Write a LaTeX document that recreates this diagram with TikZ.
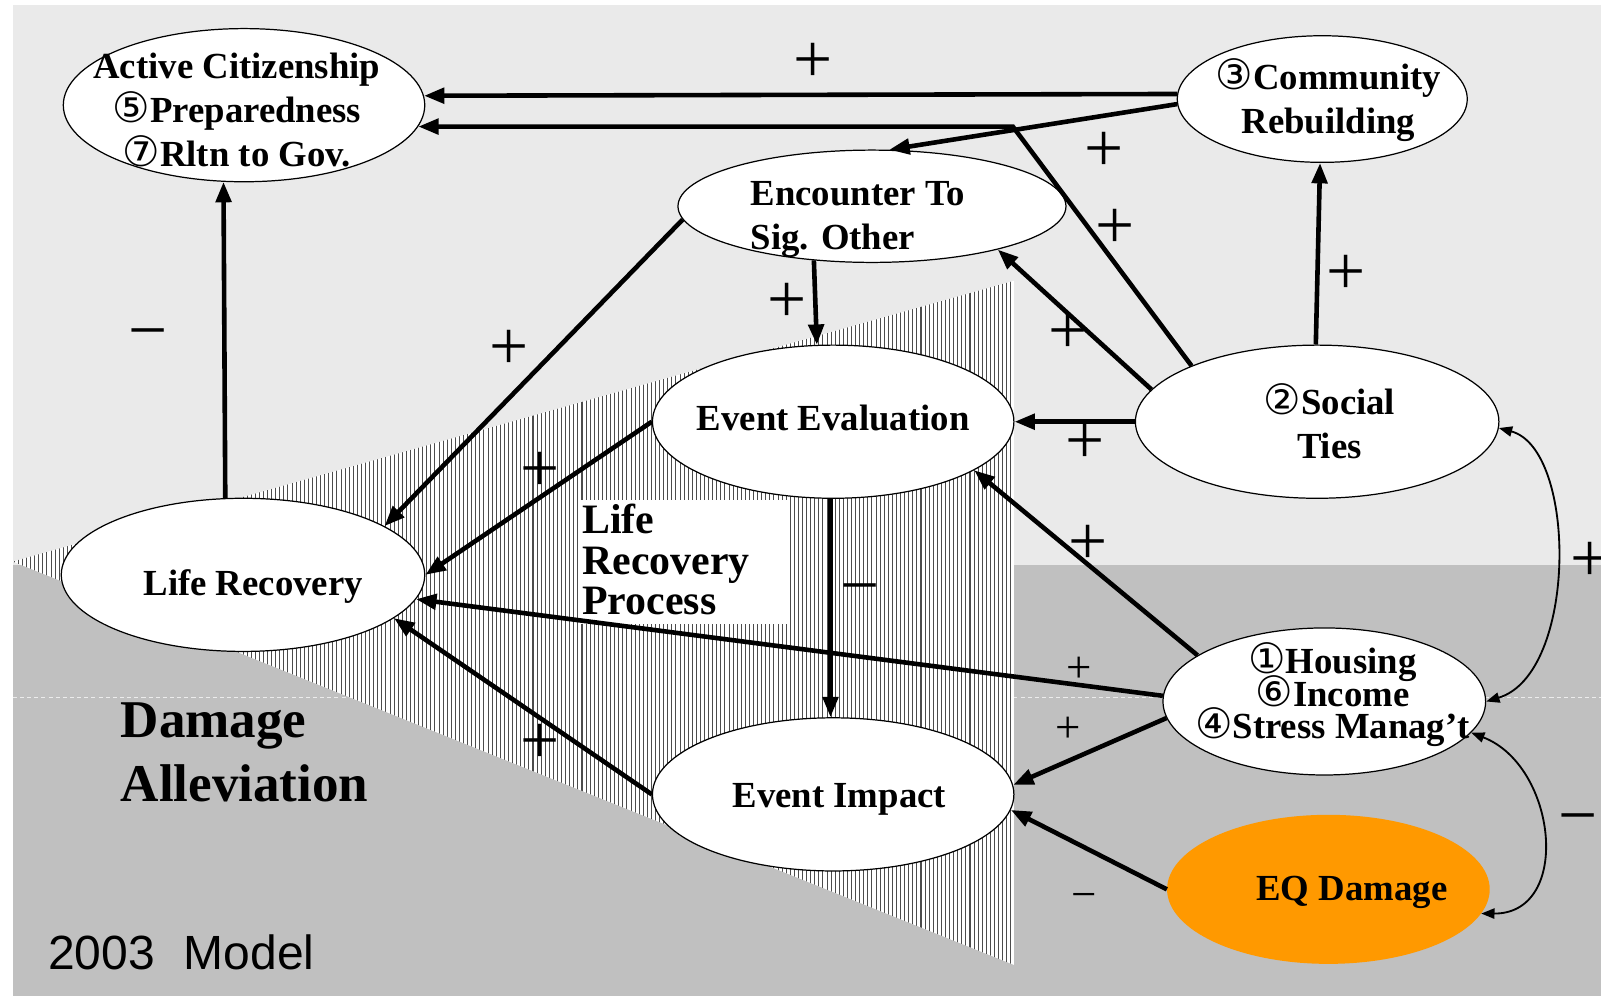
\documentclass[tikz,border=0pt]{standalone}
\usepackage{fontspec}
\setmainfont{Liberation Serif}
\setsansfont{Liberation Sans}
\newfontfamily\cfont{DejaVu Sans}
\usetikzlibrary{shapes.geometric,arrows.meta}
\definecolor{bglight}{RGB}{234,234,234}
\definecolor{bgdark}{RGB}{192,192,192}
\definecolor{eqorange}{RGB}{255,153,0}
\newcommand{\cdg}[1]{\smash{\cfont\mdseries\fontsize{41}{30}\selectfont #1}}
\begin{document}
\begin{tikzpicture}[x=1pt,y=-1pt,
  ell/.style={ellipse,draw=black,line width=1.2pt,fill=white,inner sep=0pt},
  lbl/.style={font=\bfseries\fontsize{36}{43}\selectfont,align=center,inner sep=0pt},
  conn/.style={line width=4.5pt,-{Triangle[length=20pt,width=15pt]}},
  thinconn/.style={line width=1.8pt,{Triangle[length=13pt,width=10pt]}-{Triangle[length=13pt,width=10pt]}},
  sgn/.style={font=\fontsize{68}{68}\selectfont,inner sep=0pt},
  ssgn/.style={font=\fontsize{44}{44}\selectfont,inner sep=0pt}]

\useasboundingbox (0,0) rectangle (1568,975);
\fill[white] (0,0) rectangle (1568,975);
\fill[bglight] (12.5,5) rectangle (1568,975);
\fill[bgdark] (12.5,553) rectangle (1568,975);
\draw[white,line width=0.8pt,dash pattern=on 4pt off 3pt,opacity=0.7] (12.5,683.5) -- (1568,683.5);
% hatched wedge
\fill[white] (12.5,550) -- (993,275) -- (993,945) -- cycle;
\begin{scope}
\clip (12.5,550) -- (993,275) -- (993,945) -- cycle;
\foreach \x in {14,18,...,994} \draw[black!70,line width=1pt] (\x,270) -- (\x,950);
\end{scope}
\fill[white] (567,490) rectangle (771,611);

% ellipses
\node[ell,minimum width=354pt,minimum height=150pt] (act) at (239,103) {};
\node[ell,minimum width=284pt,minimum height=124pt] (comm) at (1295,97) {};
\node[ell,minimum width=380pt,minimum height=110pt] (enc) at (854,202) {};
\node[ell,minimum width=354pt,minimum height=150pt] (eval) at (816,413) {};
\node[ell,minimum width=356pt,minimum height=150pt] (soc) at (1290,413) {};
\node[ell,minimum width=356pt,minimum height=150pt] (life) at (238,563) {};
\node[ell,minimum width=316pt,minimum height=144pt] (house) at (1297,687) {};
\node[ell,minimum width=354pt,minimum height=150pt] (imp) at (816,778) {};
\node[ellipse,fill=eqorange,inner sep=0pt,minimum width=316pt,minimum height=146pt] (eq) at (1301,871) {};

% connectors
\coordinate (bend) at (992,124);
\draw[conn] (comm.178) -- (act.3.6);
\draw[conn] (soc.156) -- (bend) -- (act.-7);
\draw[conn] (comm.182) -- (enc.73);
\draw[conn] (enc.184.3) -- (life.19.7);
\draw[conn] (enc.223.7) -- (eval.102.8);
\draw[conn] (soc.169.2) -- (enc.-19.5);
\draw[conn] (soc.91) -- (comm.268);
\draw[conn] (soc.west) -- (eval.east);
\draw[conn] (eval.west) -- (life.east);
\draw[conn] (eval.268) -- (imp.92);
\draw[conn] (house.160.6) -- (eval.-19.1);
\draw[conn] (house.178) -- (life.-8.3);
\draw[conn] (house.186) -- (imp.3.2);
\draw[conn] (imp.west) -- (life.-16.1);
\draw[conn] (eq.west) -- (imp.-5.6);
\draw[conn] (life.103.6) -- (act.255.7);
\draw[thinconn] (soc.-2.3) .. controls (1545,440) and (1545,660) .. (house.east);
\draw[thinconn] (house.-12.5) .. controls (1525,750) and (1540,895) .. (eq.-9.4);

% texts
\node[lbl] (tact) at (232,108) {Active Citizenship\\\cdg{⑤}Preparedness\\\cdg{⑦}Rltn to Gov.};
\node[lbl] (tcomm) at (1301,101) {\cdg{③}Community\\Rebuilding};
\node[lbl,align=left] (tenc) at (840,215) {Encounter To\\Sig. Other};
\node[lbl] (teval) at (816,409) {Event Evaluation};
\node[lbl] (tsoc) at (1302,415) {\cdg{②}Social\\Ties};
\node[lbl] (tlife) at (248,574) {Life Recovery};
\node[lbl,font=\bfseries\fontsize{36}{31}\selectfont] (thouse) at (1305,683) {\cdg{①}Housing\\\cdg{⑥}Income\\\cdg{④}Stress Manag’t};
\node[lbl] (timp) at (822,783) {Event Impact};
\node[lbl] (teq) at (1324,874) {EQ Damage};
\node[font=\bfseries\fontsize{41}{40}\selectfont,align=left,anchor=west,inner sep=0pt] (tlrp) at (570,548) {Life\\Recovery\\Process};
\node[font=\bfseries\fontsize{52}{62}\selectfont,align=left,anchor=west,inner sep=0pt] (tda) at (118,737) {Damage\\Alleviation};
\node[font=\sffamily\fontsize{47}{47}\selectfont,anchor=west,inner sep=0pt] (tmodel) at (47,933) {2003\hspace{0.6em}Model};

% signs
\node[sgn] (s1) at (796,62) {+};
\node[sgn] (s2) at (1081,149) {+};
\node[sgn] (s3) at (1092,224) {+};
\node[sgn] (s4) at (1318,269) {+};
\node[sgn] (s5) at (1046,327) {+};
\node[sgn] (s6) at (771,297) {+};
\node[sgn] (s7) at (499,343) {+};
\node[sgn] (s8) at (145,327) {\vphantom{+}−};
\node[sgn] (s9) at (529,462) {+};
\node[sgn] (s10) at (1063,435) {+};
\node[sgn] (s11) at (1066,534) {+};
\node[sgn] (s12) at (842,577) {\vphantom{+}−};
\node[sgn] (s13) at (1557,550) {+};
\node[ssgn] (s14) at (1057,656) {+};
\node[ssgn] (s15) at (1046,715) {+};
\node[sgn] (s16) at (529,729) {+};
\node[sgn] (s17) at (1546,802) {\vphantom{+}−};
\node[ssgn] (s18) at (1062,878) {\vphantom{+}−};
\end{tikzpicture}
\end{document}
